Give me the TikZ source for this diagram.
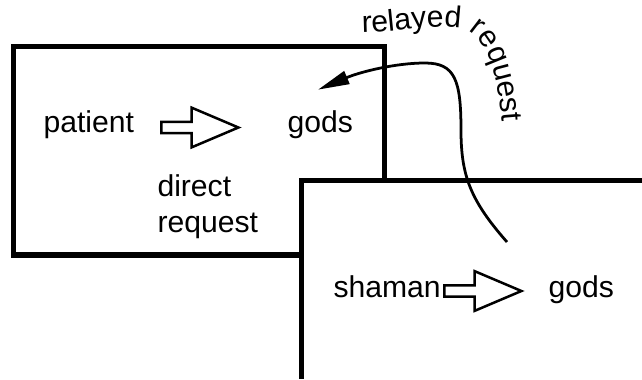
\documentclass[tikz,border=0pt]{standalone}
\usepackage{fontspec}
\setmainfont{Liberation Sans}
\usepackage{tikz}
\usetikzlibrary{positioning,arrows.meta,shapes.arrows,decorations.text}

\begin{document}
\begin{tikzpicture}[
    etichetta/.style={font=\fontsize{12}{14}\selectfont, inner sep=0pt, anchor=base west},
    freccia/.style={single arrow, draw, line width=1pt, inner sep=0.06cm, anchor=tail,
      minimum height=1.08cm, single arrow head extend=0.2cm, single arrow tip angle=46}
  ]
    \useasboundingbox (0,0) rectangle (8.988,5.306);
    % Disegna il riquadro del paziente
    \draw[line width=2pt] (5.38,2.779) -- (5.38,4.655) -- (0.189,4.655) -- (0.189,1.736) -- (4.221,1.736);
    % Disegna il riquadro dello sciamano
    \draw[line width=2pt] (8.988,2.779) -- (4.221,2.779) -- (4.221,0);
    % Etichette
    \node[etichetta] (patient) at (0.602,3.458) {patient};
    \node[etichetta] (gods1) at (4.018,3.458) {gods};
    \node[etichetta, align=left] (direct) at (2.198,2.058) {direct\\request};
    \node[etichetta] (shaman) at (4.662,1.148) {shaman};
    \node[etichetta] (gods2) at (7.672,1.148) {gods};
    % Frecce vuote
    \node[freccia] (pg) at (2.24,3.521) {};
    \node[freccia] (sg) at (6.202,1.232) {};
    % Richiesta inoltrata
    \coordinate (relay) at (7.098,1.918);
    \draw[line width=1.1pt, -{Triangle[length=0.44cm, width=0.19cm]}] (relay)
      .. controls (6.58,2.506) and (6.454,2.856) .. (6.454,3.486)
      .. controls (6.454,4.186) and (6.37,4.424) .. (5.95,4.424)
      .. controls (5.53,4.424) and (5.04,4.298) .. ([shift={(-0.03,0.28)}]gods1.north);
    \path[decorate, decoration={text along path, text align=left,
      text={|\fontsize{12}{14}\selectfont|relayed request}}]
      (5.068,4.85) .. controls (5.53,4.85) and (6.09,4.99) .. (6.468,4.906)
      .. controls (6.748,4.836) and (6.972,4.43) .. (7.028,3.56);
\end{tikzpicture}
\end{document}
